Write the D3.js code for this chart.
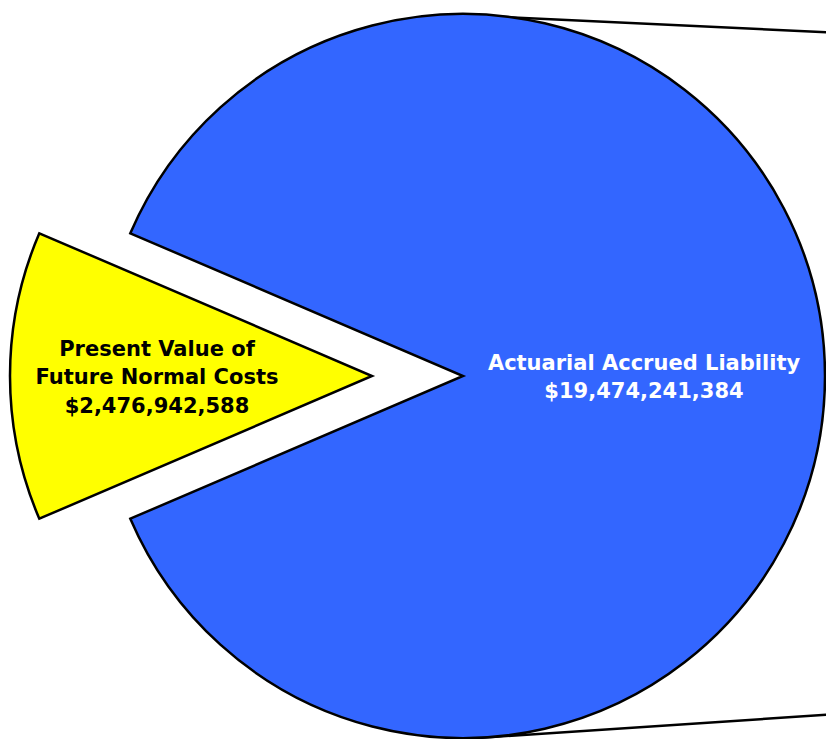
<!DOCTYPE html>
<html>
<head>
<meta charset="utf-8">
<script src="https://cdn.jsdelivr.net/npm/d3@7"></script>
<style>
  body { margin: 0; background: #fff; }
  svg { display: block; }
  text { font-family: "DejaVu Sans", Verdana, sans-serif; font-weight: bold; }
</style>
</head>
<body>
<svg width="826" height="739"></svg>
<script>
// slices, in drawing order (yellow one is pulled out to the left)
var labels = [["Present Value of", "Future Normal Costs"], ["Actuarial Accrued Liability"]];
var amounts = [2476942588, 19474241384];
var shares = [12.9, 87.1]; // percent of the circle as drawn
var colors = ["#ffff00", "#3366ff"];
var textColors = ["#000", "#fff"];

var svg = d3.select("svg"),
    cx = 463,
    cy = 376,
    radius = 362,
    explode = 91;

var fmt = d3.format("$,");

// yellow slice centred on 9 o'clock
var half = shares[0] / 100 * Math.PI;
var pie = d3.pie()
    .sort(null)
    .value(function(d) { return d; })
    .startAngle(1.5 * Math.PI - half)
    .endAngle(3.5 * Math.PI - half);

var arcs = pie(shares);

var arc = d3.arc().innerRadius(0).outerRadius(radius);
var labelArc = [
  d3.arc().innerRadius(215).outerRadius(215),
  d3.arc().innerRadius(181).outerRadius(181)
];

var g = svg.append("g").attr("transform", "translate(" + cx + "," + cy + ")");

// connector lines to the (cropped) secondary chart on the right
var connectors = [[[0, -radius + 1], [420, -radius + 21]], [[0, radius + 1], [420, radius - 27]]];
g.selectAll("line.conn")
  .data(connectors)
  .enter().append("line")
    .attr("class", "conn")
    .attr("x1", function(d) { return d[0][0]; })
    .attr("y1", function(d) { return d[0][1]; })
    .attr("x2", function(d) { return d[1][0]; })
    .attr("y2", function(d) { return d[1][1]; })
    .attr("stroke", "#000")
    .attr("stroke-width", 2.5);

var slice = g.selectAll("g.slice")
  .data(arcs)
  .enter().append("g")
    .attr("class", "slice")
    .attr("transform", function(d, i) {
      if (i != 0) return null;
      var a = (d.startAngle + d.endAngle) / 2;
      return "translate(" + (Math.sin(a) * explode) + "," + (-Math.cos(a) * explode) + ")";
    });

slice.append("path")
  .attr("d", arc)
  .attr("fill", function(d, i) { return colors[i]; })
  .attr("stroke", "#000")
  .attr("stroke-width", 2.5)
  .attr("stroke-linejoin", "miter");

slice.append("text")
  .attr("transform", function(d, i) {
    var c = labelArc[i].centroid(d);
    return "translate(" + c[0] + "," + c[1] + ")";
  })
  .attr("text-anchor", "middle")
  .attr("fill", function(d, i) { return textColors[i]; })
  .style("font-size", "21px")
  .each(function(d, i) {
    var lines = labels[i].concat([fmt(amounts[i])]);
    var t = d3.select(this);
    var lh = 28.5;
    var y0 = -(lines.length - 1) * lh / 2 + 8;
    lines.forEach(function(s, k) {
      t.append("tspan").attr("x", 0).attr("y", y0 + k * lh).text(s);
    });
  });
</script>
</body>
</html>
